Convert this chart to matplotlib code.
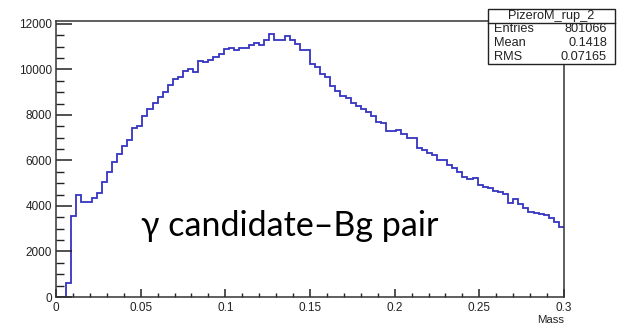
import numpy as np
import matplotlib
matplotlib.use("Agg")
import matplotlib.pyplot as plt
from matplotlib.patches import Rectangle
from matplotlib.lines import Line2D
from matplotlib.ticker import MultipleLocator

# histogram: 100 bins from 0 to 0.3
x_min, x_max, n_bins = 0.0, 0.3, 100
counts = [
    0, 0, 615, 3560, 4480, 4175, 4175, 4350, 4570, 5050,
    5490, 5930, 6290, 6620, 6900, 7420, 7520, 7960, 8250, 8520,
    8790, 8990, 9320, 9590, 9660, 9930, 10010, 9900, 10370, 10320,
    10420, 10560, 10680, 10880, 10920, 10840, 10920, 10920, 11080, 11180,
    11080, 11300, 11550, 11280, 11300, 11450, 11280, 11100, 10860, 10860,
    10250, 10100, 9790, 9660, 9290, 9070, 8840, 8730, 8540, 8400,
    8280, 8150, 7950, 7710, 7630, 7300, 7300, 7340, 7150, 6970,
    6980, 6530, 6460, 6310, 6240, 6020, 6020, 5800, 5650, 5480,
    5290, 5170, 5220, 4920, 4850, 4780, 4670, 4630, 4510, 4120,
    4310, 4070, 3930, 3750, 3680, 3650, 3600, 3460, 3300, 3090,
]

hist_name = "PizeroM_rup_2"
stat_names = ["Entries", "Mean", "RMS"]
stat_values = ["801066", "0.1418", "0.07165"]
x_label = "Mass"
note = "\u03b3 candidate\u2013Bg pair"

W, H = 625, 325
fig = plt.figure(figsize=(W / 100, H / 100), dpi=100)
fig.patch.set_facecolor("white")

ax = fig.add_axes([56 / W, 1 - 297 / H, (564 - 56) / W, (297 - 21) / H])
edges = np.linspace(x_min, x_max, n_bins + 1)
ax.stairs(counts, edges, color="#3535c0", linewidth=1.3, baseline=None)

ax.set_xlim(x_min, x_max)
ax.set_ylim(0, 1.05 * max(counts))

# ROOT-like ticks: inside, long on y, short on x
ax.xaxis.set_major_locator(MultipleLocator(0.05))
ax.xaxis.set_minor_locator(MultipleLocator(0.01))
ax.yaxis.set_major_locator(MultipleLocator(2000))
ax.yaxis.set_minor_locator(MultipleLocator(500))
ax.tick_params(axis="y", which="major", direction="in", length=11.5, width=1.1,
               labelsize=8.5, pad=3, colors="#222222")
ax.tick_params(axis="y", which="minor", direction="in", length=5.8, width=1.0, color="#222222")
ax.tick_params(axis="x", which="major", direction="in", length=6, width=1.1,
               labelsize=8.5, pad=3.5, colors="#222222")
ax.tick_params(axis="x", which="minor", direction="in", length=3, width=1.0, color="#222222")
ax.xaxis.set_major_formatter(matplotlib.ticker.FuncFormatter(lambda v, p: f"{v:g}"))

for s in ax.spines.values():
    s.set_linewidth(1.1)
    s.set_color("#333333")

ax.set_xlabel(x_label, loc="right", fontsize=8.2, labelpad=1, color="#222222")

for lab in ax.get_xticklabels() + ax.get_yticklabels():
    lab.set_family("Liberation Sans")
ax.xaxis.label.set_family("Liberation Sans")

# stats box
bx0, bx1, by0, by1, bsep = 488, 615, 9, 64, 22.5
fig.add_artist(Rectangle((bx0 / W, 1 - by1 / H), (bx1 - bx0) / W, (by1 - by0) / H,
                         transform=fig.transFigure, facecolor="white",
                         edgecolor="#222222", linewidth=1.0, zorder=5))
fig.add_artist(Line2D([bx0 / W, bx1 / W], [1 - bsep / H, 1 - bsep / H],
                      transform=fig.transFigure, color="#222222", linewidth=1.0, zorder=6))
fig.text((bx0 + bx1) / 2 / W, 1 - 15.8 / H, hist_name, ha="center", va="center",
         fontsize=9.2, family="Liberation Sans", color="#222222", zorder=7)
row_y = [29.5, 43.5, 57.5]
for name, val, yy in zip(stat_names, stat_values, row_y):
    fig.text(494 / W, 1 - yy / H, name, ha="left", va="center", fontsize=9.2,
             family="Liberation Sans", color="#222222", zorder=7)
    fig.text(607 / W, 1 - yy / H, val, ha="right", va="center", fontsize=9.2,
             family="Liberation Sans", color="#222222", zorder=7)

# overlaid slide text
fig.text(141 / W, 1 - 236 / H, note, ha="left", va="baseline", fontsize=24.5,
         family=["Lato", "Open Sans", "DejaVu Sans"], color="black")

fig.savefig("out.png", dpi=100, facecolor="white")
